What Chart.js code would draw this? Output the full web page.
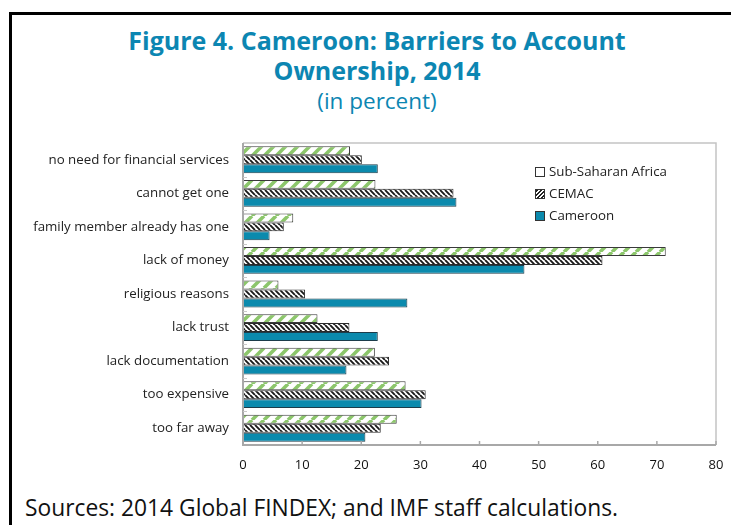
<!DOCTYPE html>
<html>
<head>
<meta charset="utf-8">
<script src="https://cdn.jsdelivr.net/npm/chart.js@4.4.1/dist/chart.umd.min.js"></script>
<style>
    html, body { margin: 0; padding: 0; background: #fff; }
    body { width: 731px; height: 525px; position: relative; overflow: hidden; font-family: "Open Sans", sans-serif; }
    #frame { position: absolute; left: 9px; top: 12px; width: 760px; height: 560px; border-left: 3px solid #000; border-top: 3px solid #000; }
    #wrap { position: absolute; left: 0; top: 0; width: 731px; height: 480px; }
    #title { position: absolute; left: 0; top: 25px; width: 754px; text-align: center; color: #0c86b2; }
    #title .main { font-size: 25px; font-weight: bold; line-height: 30px; }
    #title .sub { font-size: 22.5px; line-height: 26px; margin-top: 3px; }
    #legend { position: absolute; left: 535px; top: 161px; font-size: 13.3px; color: #222; }
    #legend div { height: 22px; line-height: 20px; white-space: nowrap; }
    #legend span.box { display: inline-block; width: 8px; height: 8px; border: 1px solid #333; margin-right: 4px; vertical-align: -1px; }
    #source { position: absolute; left: 25px; top: 492px; font-size: 22.8px; color: #111; white-space: nowrap; }
</style>
</head>
<body>
<div id="frame"></div>
<div id="title">
    <div class="main">Figure 4. Cameroon: Barriers to Account<br>Ownership, 2014</div>
    <div class="sub">(in percent)</div>
</div>
<div id="wrap"><canvas id="barriers-chart" width="731" height="480"></canvas></div>
<div id="legend"></div>
<div id="source">Sources: 2014 Global FINDEX; and IMF staff calculations.</div>
<script>
var categories = [
    "no need for financial services",
    "cannot get one",
    "family member already has one",
    "lack of money",
    "religious reasons",
    "lack trust",
    "lack documentation",
    "too expensive",
    "too far away"
];
var seriesNames = ["Sub-Saharan Africa", "CEMAC", "Cameroon"];
var ssaValues = [18.1, 22.4, 8.5, 71.5, 6.0, 12.6, 22.3, 27.5, 26.0];
var cemacValues = [20.1, 35.6, 6.9, 60.8, 10.5, 18.0, 24.7, 30.9, 23.3];
var cameroonValues = [22.8, 36.1, 4.5, 47.6, 27.8, 22.8, 17.5, 30.2, 20.7];
var xTickValues = [0, 10, 20, 30, 40, 50, 60, 70, 80];

var TEAL = "#0b8aad";

// diagonal stripe fill; dir 1 gives "/", -1 gives "\"
function makeStripes(bg, fg, period, lineW, dir) {
    var c = document.createElement("canvas");
    c.width = c.height = period;
    var x = c.getContext("2d");
    x.fillStyle = bg;
    x.fillRect(0, 0, period, period);
    x.strokeStyle = fg;
    x.lineWidth = lineW;
    x.beginPath();
    for (var k = -1; k <= 1; k++) {
        if (dir > 0) {
            x.moveTo(k * period, period);
            x.lineTo(k * period + period, 0);
        } else {
            x.moveTo(k * period, 0);
            x.lineTo(k * period + period, period);
        }
    }
    x.stroke();
    return x.createPattern(c, "repeat");
}

var ssaFill = makeStripes("#fff", "#8cc66b", 12, 3.6, 1);
var cemacFill = makeStripes("#fff", "#1a1a1a", 5, 1.9, -1);

// light frame around the plot plus short inward tick marks
var plotFrame = {
    id: "plotFrame",
    afterDatasetsDraw: function (chart) {
        var ctx = chart.ctx,
            area = chart.chartArea,
            xs = chart.scales.x,
            ys = chart.scales.y;

        ctx.save();
        ctx.strokeStyle = "#c4c4c4";
        ctx.lineWidth = 1.5;
        ctx.beginPath();
        ctx.moveTo(area.left, area.top);
        ctx.lineTo(area.right, area.top);
        ctx.lineTo(area.right, area.bottom);
        ctx.stroke();

        ctx.strokeStyle = "#a8a8a8";
        ctx.lineWidth = 2;
        ctx.beginPath();
        ctx.moveTo(area.left, area.top);
        ctx.lineTo(area.left, area.bottom);
        ctx.lineTo(area.right, area.bottom);
        ctx.stroke();

        ctx.lineWidth = 1.5;
        xs.ticks.forEach(function (t) {
            var px = xs.getPixelForValue(t.value);
            ctx.beginPath();
            ctx.moveTo(px, area.bottom);
            ctx.lineTo(px, area.bottom - 4);
            ctx.stroke();
        });

        ctx.strokeStyle = "#c8c8c8";
        ctx.lineWidth = 1;
        var band = ys.getPixelForValue(1) - ys.getPixelForValue(0);
        for (var i = 1; i < categories.length; i++) {
            var py = Math.round(ys.getPixelForValue(i) - band / 2) + 0.5;
            ctx.beginPath();
            ctx.moveTo(area.left, py);
            ctx.lineTo(area.left + 4, py);
            ctx.stroke();
        }
        ctx.restore();
    }
};

var chart = new Chart("barriers-chart", {
    type: "bar",
    data: {
        labels: categories,
        datasets: [
            {
                label: seriesNames[0],
                data: ssaValues,
                backgroundColor: ssaFill,
                borderColor: "#3a3a3a",
                borderWidth: 1,
                borderSkipped: false
            },
            {
                label: seriesNames[1],
                data: cemacValues,
                backgroundColor: cemacFill,
                borderColor: "#2a2a2a",
                borderWidth: 1,
                borderSkipped: false
            },
            {
                label: seriesNames[2],
                data: cameroonValues,
                backgroundColor: TEAL,
                borderColor: "#1c3c4a",
                borderWidth: 1,
                borderSkipped: false
            }
        ]
    },
    options: {
        indexAxis: "y",
        responsive: false,
        animation: false,
        categoryPercentage: 0.8,
        barPercentage: 1.0,
        layout: { autoPadding: false, padding: { left: 20, right: 15, top: 143, bottom: 7 } },
        plugins: {
            legend: { display: false },
            tooltip: { enabled: false }
        },
        scales: {
            x: {
                min: xTickValues[0],
                max: xTickValues[xTickValues.length - 1],
                grid: { display: false, drawTicks: false },
                border: { display: false },
                ticks: {
                    stepSize: xTickValues[1] - xTickValues[0],
                    color: "#111",
                    padding: 12,
                    maxRotation: 0,
                    font: { family: "Open Sans", size: 13 }
                },
                afterFit: function (scale) {
                    scale.height = 28;
                    scale.paddingLeft = 0;
                    scale.paddingRight = 0;
                }
            },
            y: {
                grid: { display: false, drawTicks: false },
                border: { display: false },
                ticks: {
                    color: "#222",
                    padding: 14,
                    font: { family: "Open Sans", size: 13.3 }
                },
                afterFit: function (scale) {
                    scale.width = 223;
                }
            }
        }
    },
    plugins: [plotFrame]
});

// legend rows built from the dataset styles
var legendEl = document.getElementById("legend");
var legendBoxes = [
    "background:#fff",
    "background:repeating-linear-gradient(135deg,#222 0 1.5px,#fff 1.5px 3px)",
    "background:" + TEAL
];
seriesNames.forEach(function (name, i) {
    var row = document.createElement("div");
    row.innerHTML = '<span class="box" style="' + legendBoxes[i] + '"></span>' + name;
    legendEl.appendChild(row);
});
</script>
</body>
</html>
